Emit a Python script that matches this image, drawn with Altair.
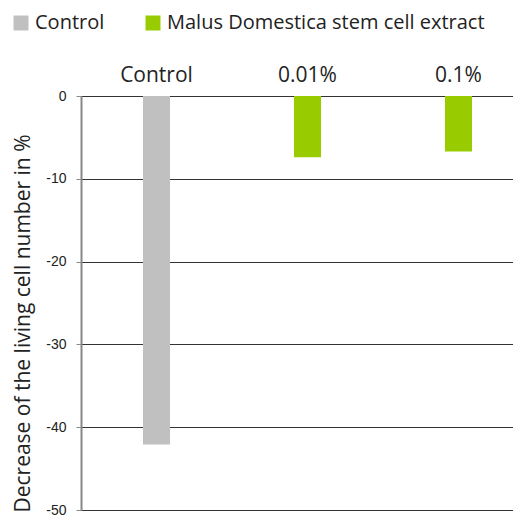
import altair as alt
import pandas as pd

groups = ["Control", "0.01%", "0.1%"]
values = [-42.1, -7.4, -6.7]
series = ["Control", "Malus Domestica stem cell extract", "Malus Domestica stem cell extract"]
series_order = ["Control", "Malus Domestica stem cell extract"]
series_colors = ["#c0c0c0", "#99cc00"]
y_ticks = [0, -10, -20, -30, -40, -50]

df = pd.DataFrame({"group": groups, "value": values, "series": series})

chart = alt.Chart(df).mark_bar().encode(
    x=alt.X("group:N", sort=groups, title=None,
            scale=alt.Scale(paddingInner=0.821, paddingOuter=0.341, align=0.602),
            axis=alt.Axis(orient="top", domain=False, ticks=False, labelAngle=0,
                          labelFont="Open Sans", labelFontSize=21, labelColor="#222222",
                          labelPadding=11, grid=False)),
    y=alt.Y("value:Q", title="Decrease of the living cell number in %",
            scale=alt.Scale(domain=[-50, 0], nice=False),
            axis=alt.Axis(values=y_ticks, grid=True, gridColor="#333333", gridWidth=1,
                          domainColor="#888888", domainWidth=2, tickColor="#888888",
                          tickSize=5, labelFont="Liberation Sans", labelFontSize=14,
                          labelColor="#222222", labelPadding=10,
                          labelExpr="datum.value + ''",
                          titleFont="Open Sans", titleFontSize=21, titleFontWeight="normal",
                          titleColor="#222222", titleX=-48, titleY=227)),
    color=alt.Color("series:N", scale=alt.Scale(domain=series_order, range=series_colors),
                    legend=alt.Legend(title=None, orient="none", legendX=-70, legendY=-83,
                                      direction="horizontal", symbolType="square",
                                      symbolSize=225, symbolStrokeWidth=0, symbolOpacity=1,
                                      labelFont="Open Sans", labelFontSize=20, labelColor="#222222",
                                      labelOffset=4, labelLimit=500, columnPadding=38, padding=0)),
).properties(
    width=432, height=414,
    autosize=alt.AutoSizeParams(type="none"),
    padding={"left": 73, "top": 88, "right": 0, "bottom": 7},
).configure_view(stroke=None)

chart.save("out.html", embed_options={"renderer": "svg", "actions": False})
